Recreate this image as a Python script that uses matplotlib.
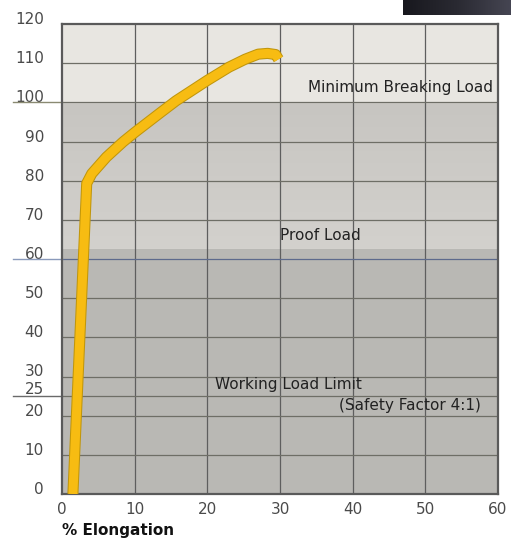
import numpy as np
import matplotlib
matplotlib.use("Agg")
import matplotlib.pyplot as plt
import matplotlib.patheffects as pe
from matplotlib.transforms import ScaledTranslation, blended_transform_factory
from matplotlib.colors import LinearSegmentedColormap

# ---- data ----
elongation = [1.5, 3.4, 4.1, 6.1, 8.4, 10.0, 13.5, 15.7, 20.0, 23.0, 25.2, 27.0, 28.3, 29.4, 29.8]
load = [0, 79.3, 81.8, 86.0, 89.9, 92.3, 97.3, 100.4, 105.6, 109.0, 111.0, 112.3, 112.5, 112.2, 111.0]

x_ticks = [0, 10, 20, 30, 40, 50, 60]
y_ticks = [0, 10, 20, 25, 30, 40, 50, 60, 70, 80, 90, 100, 110, 120]
marked_levels = [100, 60, 25]

band_levels = [0, 62.5, 100, 120]
band_labels = ["Working Load Limit", "Proof Load", "Minimum Breaking Load"]
x_label = "% Elongation"

plt.rcParams['font.family'] = ['DejaVu Sans']

W, H = 511, 540
fig = plt.figure(figsize=(W / 100, H / 100), dpi=100)
fig.patch.set_facecolor('white')
ax = fig.add_axes([62 / W, 1 - 494 / H, (498 - 62) / W, (494 - 24) / H])

# background bands
ax.axhspan(band_levels[0], band_levels[1], color='#b9b8b4', zorder=0)
grad = np.linspace(0, 1, 100).reshape(-1, 1)
cm = LinearSegmentedColormap.from_list('mid', ['#d3d1cd', '#c7c5c1'])
ax.imshow(grad, cmap=cm, extent=[0, 60, band_levels[1], band_levels[2]],
          origin='lower', aspect='auto', zorder=0)
ax.axhspan(band_levels[2], band_levels[3], color='#e8e6e1', zorder=0)
ax.set_xlim(0, 60)
ax.set_ylim(0, 120)

# grid
ax.set_xticks(x_ticks)
ax.set_yticks(y_ticks)
ax.set_xticklabels([str(v) for v in x_ticks])
ax.set_yticklabels([str(v) for v in y_ticks])
for v in x_ticks[1:-1]:
    ax.axvline(v, color='#5e5e5e', lw=0.9, zorder=1)
for v in y_ticks[1:-1]:
    c = '#5d6a8c' if v == 60 else '#6e6e66'
    ax.axhline(v, color=c, lw=0.9, zorder=1)

for s in ax.spines.values():
    s.set_color('#5a5a5a')
    s.set_linewidth(1.6)

ax.tick_params(axis='both', length=0, labelsize=11, labelcolor='#4a4a4a')
ax.tick_params(axis='y', pad=13)
ax.tick_params(axis='x', pad=6)
for lab, v in zip(ax.get_yticklabels(), y_ticks):
    dy = 8 if v == 25 else 6
    lab.set_transform(lab.get_transform() + ScaledTranslation(0, dy / 100, fig.dpi_scale_trans))

# long reference lines at the left
bt = blended_transform_factory(fig.transFigure, ax.transData)
ref_colors = {100: '#8a8a72', 60: '#8a9abb', 25: '#6a6a6a'}
for v in marked_levels:
    ax.plot([13 / W, 62 / W], [v, v], transform=bt, color=ref_colors[v], lw=1.0, clip_on=False)

# curve
ax.plot(elongation, load, color='#f7bc12', lw=6.5, solid_joinstyle='round', solid_capstyle='butt',
        zorder=3, path_effects=[pe.Stroke(linewidth=8, foreground='#c0960c'), pe.Normal()])

# band labels
ax.text(59.3, 103.8, band_labels[2], ha='right', va='center', fontsize=11, color='#222222')
ax.text(35.5, 66.0, band_labels[1], ha='center', va='center', fontsize=11, color='#222222')
ax.text(21.0, 28.0, band_labels[0], ha='left', va='center', fontsize=11, color='#222222')
ax.text(57.6, 22.5, "(Safety Factor 4:1)", ha='right', va='center', fontsize=11, color='#222222')

fig.text(62 / W, 1 - 530 / H, x_label, ha='left', va='center', fontsize=11,
         fontweight='bold', color='#111111')

# dark corner piece
cax = fig.add_axes([403 / W, 1 - 15 / H, (W - 403) / W, 15 / H])
cax.imshow(np.linspace(0, 1, 100).reshape(1, -1),
           cmap=LinearSegmentedColormap.from_list('dk', ['#18181e', '#2a2a32', '#454552']),
           aspect='auto', extent=[0, 1, 0, 1])
cax.axis('off')

fig.savefig('out.png', dpi=100)
